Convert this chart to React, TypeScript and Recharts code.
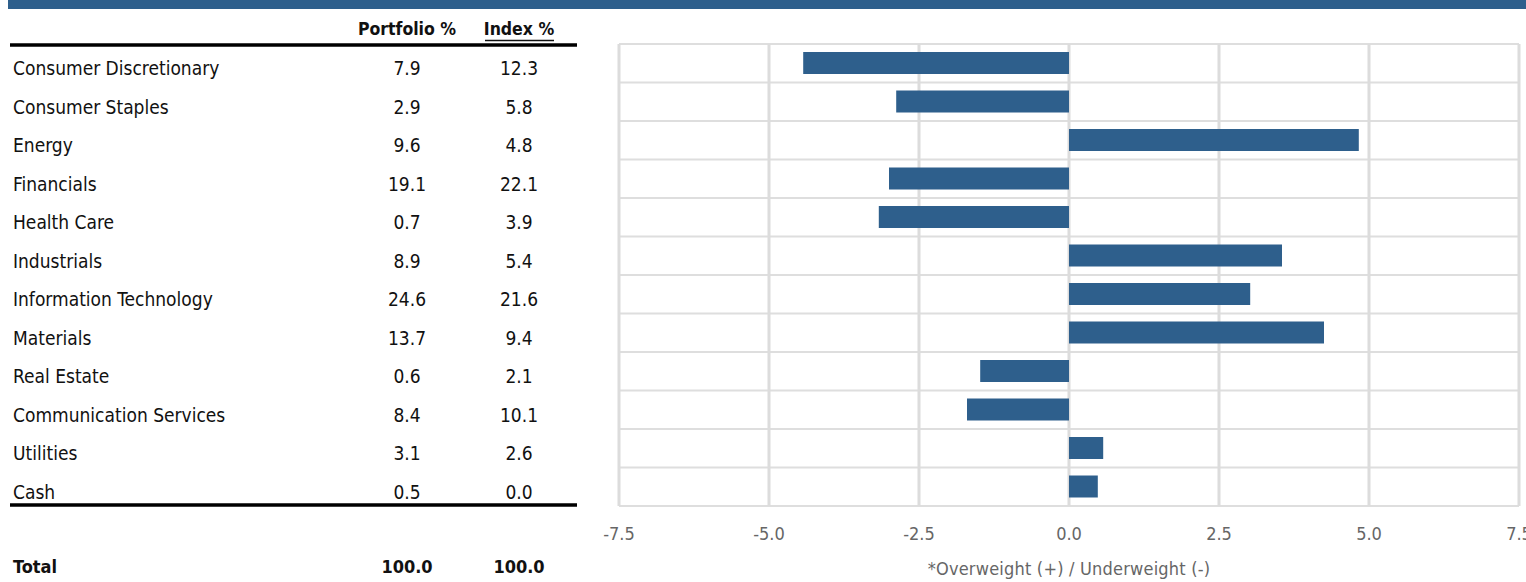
import React from "react";
import { BarChart, Bar, XAxis, YAxis, CartesianGrid } from "recharts";

const sectors = [
  "Consumer Discretionary",
  "Consumer Staples",
  "Energy",
  "Financials",
  "Health Care",
  "Industrials",
  "Information Technology",
  "Materials",
  "Real Estate",
  "Communication Services",
  "Utilities",
  "Cash",
];
const portfolioPct = ["7.9", "2.9", "9.6", "19.1", "0.7", "8.9", "24.6", "13.7", "0.6", "8.4", "3.1", "0.5"];
const indexPct = ["12.3", "5.8", "4.8", "22.1", "3.9", "5.4", "21.6", "9.4", "2.1", "10.1", "2.6", "0.0"];
const activeWeight = [-4.43, -2.88, 4.83, -3.0, -3.17, 3.55, 3.02, 4.25, -1.48, -1.7, 0.57, 0.48];
const xTicks = [-7.5, -5, -2.5, 0, 2.5, 5, 7.5];
const totals = ["100.0", "100.0"];
const axisTitle = "*Overweight (+) / Underweight (-)";

const data = sectors.map((name, i) => ({
  name,
  portfolio: portfolioPct[i],
  index: indexPct[i],
  active: activeWeight[i],
}));

const FONT = "'Liberation Sans Narrow', 'Arial Narrow', 'DejaVu Sans Condensed', 'Liberation Sans', sans-serif";
const BLUE = "#2e5f8c";

const RowTick = (props: any) => {
  const { y, index } = props;
  const d = data[index];
  if (!d) return null;
  const ty = y + 12;
  return (
    <g fontFamily={FONT} fontSize={19} fill="#111">
      <text x={13} y={ty} textAnchor="start">{d.name}</text>
      <text x={407} y={ty} textAnchor="middle">{d.portfolio}</text>
      <text x={519} y={ty} textAnchor="middle">{d.index}</text>
    </g>
  );
};

export default function App() {
  return (
    <div style={{ position: "absolute", left: 0, top: 0, width: 1526, height: 582, overflow: "hidden", background: "#fff" }}>
      <div style={{ position: "absolute", left: 8, top: 0, width: 1518, height: 9, background: BLUE }} />
      <BarChart
        width={1526}
        height={582}
        data={data}
        layout="vertical"
        margin={{ top: 44, right: 7, bottom: 0, left: 0 }}
        barCategoryGap={0}
      >
        <CartesianGrid
          vertical={false}
          stroke="#dedede"
          strokeWidth={2}
          horizontalCoordinatesGenerator={({ offset }: any) =>
            sectors.concat([""]).map((_, i) => offset.top + (i * offset.height) / sectors.length)
          }
        />
        <CartesianGrid horizontal={false} stroke="#dcdcdc" strokeWidth={3} />
        <XAxis
          type="number"
          domain={[-7.5, 7.5]}
          ticks={xTicks}
          tickFormatter={(v: number) => v.toFixed(1)}
          axisLine={false}
          tickLine={false}
          tickSize={0}
          tickMargin={21}
          height={76}
          interval={0}
          tick={{ fill: "#666", fontSize: 18, fontFamily: FONT } as any}
          label={{
            value: axisTitle,
            position: "insideBottom",
            offset: 7,
            fill: "#666",
            fontSize: 18,
            fontFamily: FONT,
            style: { letterSpacing: "0.2px" },
          }}
        />
        <YAxis
          type="category"
          dataKey="name"
          width={619}
          axisLine={false}
          tickLine={false}
          tickSize={0}
          interval={0}
          tick={<RowTick />}
        />
        <Bar dataKey="active" fill={BLUE} barSize={22} isAnimationActive={false} />
      </BarChart>
      <svg
        width={1526}
        height={582}
        style={{ position: "absolute", left: 0, top: 0, pointerEvents: "none" }}
        fontFamily={FONT}
      >
        <g fontWeight="bold" fontSize={17.5} fill="#111">
          <text x={407} y={35} textAnchor="middle">Portfolio %</text>
          <text x={519} y={35} textAnchor="middle">Index %</text>
        </g>
        <line x1={485} x2={554} y1={40.5} y2={40.5} stroke="#111" strokeWidth={1.5} />
        <line x1={10} x2={577} y1={45} y2={45} stroke="#000" strokeWidth={3.5} />
        <line x1={10} x2={577} y1={505} y2={505} stroke="#000" strokeWidth={3.5} />
        <g fontWeight="bold" fontSize={18} fill="#111">
          <text x={13} y={573} textAnchor="start">Total</text>
          <text x={407} y={573} textAnchor="middle">{totals[0]}</text>
          <text x={519} y={573} textAnchor="middle">{totals[1]}</text>
        </g>
      </svg>
    </div>
  );
}
